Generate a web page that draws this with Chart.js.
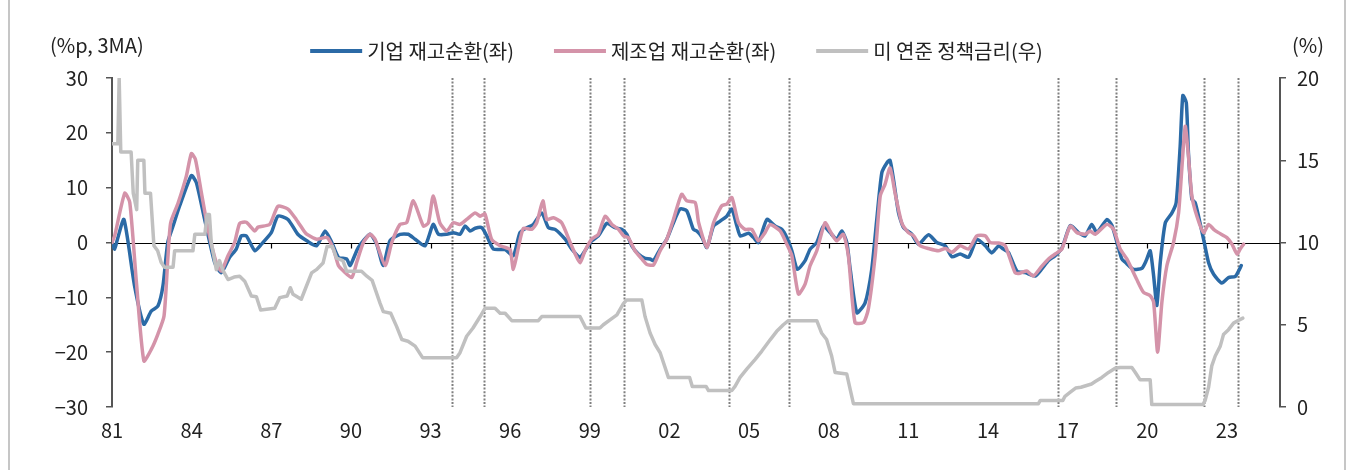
<!DOCTYPE html>
<html>
<head>
<meta charset="utf-8">
<script src="https://cdn.jsdelivr.net/npm/chart.js@4/dist/chart.umd.min.js"></script>
<style>
  html, body { margin: 0; padding: 0; background: #fff; }
  #wrap { width: 1353px; height: 470px; }
</style>
</head>
<body>
<div id="wrap"><canvas id="myChart" width="1353" height="470"></canvas></div>
<script>
// series: [decimal year, value]
firmCycle = [
	[1981.0,0],[1981.1,-1.2],[1981.2,0.5],[1981.45,4.2],[1981.85,-7.9],[1982.2,-14.9],[1982.48,-12.5],[1982.73,-11.6],
	[1982.92,-7.9],[1983.1,0],[1983.3,3.0],[1983.55,6.7],[1983.99,12.2],[1984.18,10.9],[1984.49,4.2],[1984.87,-3.7],
	[1985.12,-5.5],[1985.43,-2.7],[1985.68,-1.2],[1985.87,1.2],[1986.06,1.2],[1986.38,-1.5],[1986.63,-0.3],[1987.0,1.8],
	[1987.25,4.8],[1987.63,4.2],[1988.0,1.5],[1988.34,0.3],[1988.71,-0.6],[1989.03,2.1],[1989.28,0],[1989.53,-2.7],
	[1989.84,-3.0],[1989.97,-4.2],[1990.28,-0.9],[1990.72,1.5],[1990.97,-0.3],[1991.22,-4.2],[1991.47,0.3],[1991.85,1.5],
	[1992.16,1.5],[1992.42,0.6],[1992.79,-0.6],[1993.1,3.3],[1993.3,1.5],[1993.61,1.5],[1993.86,1.8],[1994.11,1.5],
	[1994.3,3.0],[1994.49,2.1],[1994.68,2.6],[1994.93,2.7],[1995.12,1.2],[1995.37,-1.2],[1995.81,-1.3],[1996.12,-2.4],
	[1996.37,1.8],[1996.63,2.7],[1996.87,3.3],[1997.19,5.4],[1997.44,2.7],[1997.69,2.4],[1998.07,0.6],[1998.32,-1.2],
	[1998.63,-2.7],[1998.82,-1.5],[1999.07,0.3],[1999.32,1.2],[1999.64,3.5],[1999.95,2.7],[2000.2,2.4],[2000.39,1.5],
	[2000.58,-0.6],[2000.83,-2.1],[2001.08,-2.9],[2001.27,-3.0],[2001.4,-3.3],[2001.65,-1.2],[2001.9,0.6],[2002.15,3.6],
	[2002.4,6.1],[2002.65,5.8],[2002.9,2.4],[2003.03,2.1],[2003.22,1.0],[2003.41,-0.9],[2003.66,3.0],[2003.91,3.9],
	[2004.16,4.8],[2004.35,6.1],[2004.54,3.0],[2004.67,1.2],[2004.98,1.7],[2005.17,0.9],[2005.35,0],[2005.67,4.2],
	[2005.98,3.0],[2006.23,2.4],[2006.42,0.9],[2006.61,-1.5],[2006.82,-4.9],[2007.11,-3.3],[2007.3,-1.2],[2007.55,0],
	[2007.8,3.0],[2008.05,1.8],[2008.3,0.6],[2008.49,2.1],[2008.68,0],[2008.81,-4.9],[2009.06,-12.8],[2009.37,-11.0],
	[2009.62,-4.9],[2009.81,4.2],[2010.0,12.7],[2010.2,14.6],[2010.31,15.0],[2010.44,11.5],[2010.63,5.4],[2010.82,2.7],
	[2011.13,1.5],[2011.38,-0.3],[2011.76,1.4],[2012.07,0],[2012.39,-0.6],[2012.64,-2.6],[2012.95,-2.1],[2013.27,-2.7],
	[2013.58,0.6],[2013.9,-0.6],[2014.14,-1.9],[2014.4,-0.6],[2014.58,-1.2],[2014.77,-1.8],[2015.09,-5.2],[2015.4,-5.5],
	[2015.78,-6.1],[2016.03,-4.8],[2016.28,-3.3],[2016.53,-2.4],[2016.78,-1.1],[2017.1,3.1],[2017.41,1.8],[2017.66,1.2],
	[2017.91,3.3],[2018.1,1.8],[2018.48,4.2],[2018.67,3.1],[2018.86,0],[2019.04,-3.0],[2019.17,-3.6],[2019.48,-4.9],
	[2019.8,-4.7],[2019.96,-3.3],[2020.11,-1.5],[2020.24,-6.1],[2020.36,-11.5],[2020.49,-3.6],[2020.68,3.6],[2020.93,5.4],
	[2021.09,7.3],[2021.24,17.6],[2021.34,26.8],[2021.47,25.5],[2021.55,16.4],[2021.68,7.9],[2021.8,7.3],[2021.93,4.8],
	[2022.12,0.6],[2022.31,-3.7],[2022.5,-5.8],[2022.81,-7.4],[2023.06,-6.4],[2023.31,-6.2],[2023.44,-5.2],[2023.54,-4.2]
]

mfgCycle = [
	[1981.0,0],[1981.1,1.2],[1981.48,9.0],[1981.67,7.3],[1981.92,-7.3],[1982.2,-21.6],[1982.48,-19.5],[1982.73,-16.7],
	[1982.96,-13.4],[1983.11,-2.4],[1983.21,3.6],[1983.49,7.2],[1983.8,12.1],[1983.99,16.2],[1984.14,15.2],[1984.37,9.0],
	[1984.62,2.4],[1984.93,-3.7],[1985.12,-5.2],[1985.37,-2.4],[1985.62,0],[1985.81,3.5],[1986.06,3.7],[1986.38,2.1],
	[1986.5,2.8],[1986.94,3.3],[1987.25,6.6],[1987.63,6.1],[1987.94,4.2],[1988.26,1.9],[1988.34,1.5],[1988.71,0.6],
	[1989.1,0.9],[1989.34,-1.2],[1989.53,-4.2],[1989.72,-5.2],[1990.03,-6.4],[1990.22,-3.6],[1990.47,0],[1990.72,1.5],
	[1990.91,0.6],[1991.29,-4.2],[1991.54,0],[1991.85,3.3],[1992.1,3.6],[1992.35,7.6],[1992.73,3.0],[1992.92,3.6],
	[1993.1,8.5],[1993.35,3.6],[1993.61,2.1],[1993.86,3.6],[1994.11,3.3],[1994.36,4.2],[1994.68,5.4],[1994.87,4.8],
	[1995.05,5.2],[1995.3,0.6],[1995.62,-0.6],[1995.81,-0.9],[1996.0,-1.3],[1996.12,-4.9],[1996.31,-0.9],[1996.5,2.6],
	[1996.81,2.4],[1997.0,3.6],[1997.23,7.6],[1997.38,4.2],[1997.63,4.5],[1997.94,3.6],[1998.26,0],[1998.45,-2.1],
	[1998.63,-3.7],[1998.82,-1.5],[1999.07,0.6],[1999.32,1.5],[1999.58,4.8],[1999.83,3.3],[2000.08,2.4],[2000.27,1.2],
	[2000.45,0.9],[2000.7,-1.5],[2000.96,-3.0],[2001.15,-4.0],[2001.4,-4.1],[2001.65,-1.5],[2001.9,0.6],[2002.15,4.2],
	[2002.46,8.8],[2002.65,7.6],[2002.97,7.3],[2003.1,3.6],[2003.41,-0.9],[2003.66,3.6],[2003.97,6.7],[2004.16,7.0],
	[2004.35,8.2],[2004.6,3.6],[2004.85,2.4],[2005.1,2.4],[2005.35,0.3],[2005.6,1.8],[2005.79,3.3],[2006.17,2.1],
	[2006.42,-0.3],[2006.61,-2.4],[2006.86,-9.4],[2007.11,-7.6],[2007.3,-4.2],[2007.55,-1.5],[2007.86,3.6],[2008.05,2.1],
	[2008.3,0.3],[2008.55,1.5],[2008.74,-2.4],[2008.99,-14.6],[2009.31,-14.6],[2009.49,-12.2],[2009.75,-2.4],[2009.94,8.5],
	[2010.12,10.6],[2010.31,13.6],[2010.5,9.0],[2010.75,3.6],[2011.0,1.8],[2011.2,1.2],[2011.44,-0.6],[2011.76,-1.1],
	[2012.13,-1.5],[2012.4,-1.1],[2012.64,-1.8],[2012.95,-0.6],[2013.27,-1.2],[2013.58,1.2],[2013.9,1.2],[2014.08,0],
	[2014.4,-0.1],[2014.65,-0.6],[2015.02,-5.5],[2015.21,-5.6],[2015.46,-5.2],[2015.71,-6.1],[2016.03,-4.3],[2016.28,-3.0],
	[2016.53,-2.1],[2016.78,-1.2],[2017.1,3.0],[2017.35,1.8],[2017.66,1.5],[2017.85,2.1],[2018.04,1.5],[2018.48,3.3],
	[2018.73,2.4],[2018.98,-1.2],[2019.23,-3.0],[2019.6,-6.7],[2019.86,-9.1],[2020.11,-9.7],[2020.24,-10.9],[2020.39,-20.0],
	[2020.55,-10.9],[2020.74,-4.2],[2020.99,0],[2021.18,5.4],[2021.3,13.3],[2021.43,21.2],[2021.55,15.8],[2021.68,8.5],
	[2021.87,4.8],[2022.12,1.8],[2022.31,3.3],[2022.5,2.4],[2022.68,1.8],[2023.0,0.9],[2023.19,-0.3],[2023.38,-2.1],
	[2023.5,-1.2],[2023.63,-0.3]
]

fedRate = [
	[1981.0,16.0],[1981.22,16.0],[1981.27,20.0],[1981.33,15.5],[1981.72,15.5],[1981.8,13.0],[1981.93,12.0],[1981.97,15.0],
	[1982.2,15.0],[1982.24,13.0],[1982.45,13.0],[1982.58,9.8],[1982.72,9.5],[1982.85,8.8],[1982.97,8.5],[1983.3,8.5],
	[1983.36,9.5],[1984.05,9.5],[1984.12,10.5],[1984.5,10.5],[1984.58,11.7],[1984.67,11.7],[1984.74,10.0],[1984.93,8.35],
	[1985.05,8.9],[1985.18,8.3],[1985.37,7.75],[1985.6,7.9],[1985.81,7.95],[1986.0,7.65],[1986.25,6.75],[1986.44,6.7],
	[1986.6,5.9],[1987.13,6.0],[1987.32,6.65],[1987.6,6.75],[1987.72,7.25],[1987.82,6.85],[1988.13,6.55],[1988.3,7.25],
	[1988.52,8.15],[1988.7,8.35],[1988.95,8.75],[1989.1,9.75],[1989.3,9.75],[1989.46,9.05],[1989.7,8.9],[1989.84,8.25],
	[1990.4,8.25],[1990.6,7.95],[1990.8,7.7],[1991.1,6.3],[1991.22,5.8],[1991.5,5.7],[1991.72,4.9],[1991.92,4.1],
	[1992.15,4.0],[1992.42,3.7],[1992.7,3.0],[1993.98,3.0],[1994.11,3.3],[1994.36,4.3],[1994.6,4.8],[1994.87,5.5],
	[1995.05,6.0],[1995.43,6.0],[1995.62,5.7],[1995.81,5.7],[1996.06,5.25],[1997.06,5.25],[1997.19,5.5],[1998.63,5.5],
	[1998.85,4.8],[1999.38,4.8],[1999.51,5.0],[1999.76,5.3],[2000.02,5.6],[2000.27,6.3],[2000.39,6.5],[2000.96,6.5],
	[2001.08,5.5],[2001.27,4.5],[2001.46,3.8],[2001.65,3.3],[2001.96,1.8],[2002.76,1.8],[2002.86,1.25],[2003.38,1.25],
	[2003.47,1.0],[2004.35,1.0],[2004.47,1.25],[2004.66,1.8],[2004.91,2.3],[2005.23,2.9],[2005.48,3.4],[2005.8,4.1],
	[2006.04,4.6],[2006.29,5.0],[2006.48,5.25],[2007.55,5.25],[2007.73,4.5],[2007.92,4.1],[2008.11,3.1],[2008.24,2.1],
	[2008.68,2.0],[2008.81,1.05],[2008.93,0.2],[2015.9,0.2],[2015.97,0.4],[2016.82,0.4],[2016.9,0.65],[2017.1,0.9],
	[2017.3,1.15],[2017.5,1.2],[2017.9,1.4],[2018.04,1.55],[2018.29,1.8],[2018.54,2.1],[2018.79,2.35],[2018.98,2.4],
	[2019.42,2.4],[2019.55,2.1],[2019.73,1.65],[2020.11,1.65],[2020.17,0.15],[2022.1,0.15],[2022.18,0.4],[2022.31,1.2],
	[2022.43,2.5],[2022.56,3.1],[2022.75,3.7],[2022.87,4.4],[2023.06,4.7],[2023.25,5.1],[2023.47,5.3],[2023.6,5.4]
]

// dotted vertical markers (decimal year)
markerYears = [1993.8, 1995.0, 1999.0, 2000.27, 2004.26, 2006.52, 2016.62, 2018.83, 2022.12, 2023.41]

xTickYears = [1981,1984,1987,1990,1993,1996,1999,2002,2005,2008,2011,2014,2017,2020,2023]
xTickLabels = ['81','84','87','90','93','96','99','02','05','08','11','14','17','20','23']

seriesNames = ['기업 재고순환(좌)', '제조업 재고순환(좌)', '미 연준 정책금리(우)']
leftTitle = '(%p, 3MA)'
rightTitle = '(%)'

var FONT = '"Noto Sans CJK KR", "Noto Sans", sans-serif'
var BLUE = '#2b6aa6', PINK = '#d493a9', GREY = '#c0c0c0'

function toPoints(arr){
	return arr.map(function(p){ return {x: p[0], y: p[1]} })
}

// zero line, small ticks, dotted markers, legend, axis titles
var decor = {
	id: 'decor',
	beforeDatasetsDraw: function(chart){
		var ctx = chart.ctx, a = chart.chartArea
		var xs = chart.scales.x, ys = chart.scales.y
		ctx.save()
		ctx.strokeStyle = '#7f7f7f'
		ctx.lineWidth = 2
		ctx.setLineDash([2, 1.6])
		markerYears.forEach(function(yr){
			var px = Math.round(xs.getPixelForValue(yr)) + 0.5
			ctx.beginPath()
			ctx.moveTo(px, a.top)
			ctx.lineTo(px, a.bottom)
			ctx.stroke()
		})
		ctx.setLineDash([])
		var y0 = Math.round(ys.getPixelForValue(0)) + 0.5
		ctx.strokeStyle = '#000'
		ctx.lineWidth = 1.2
		ctx.beginPath()
		ctx.moveTo(a.left, y0)
		ctx.lineTo(a.right, y0)
		xTickYears.slice(1).forEach(function(yr){
			var px = Math.round(xs.getPixelForValue(yr)) + 0.5
			ctx.moveTo(px, y0)
			ctx.lineTo(px, y0 + 5)
		})
		ctx.stroke()
		ctx.restore()
	},
	afterDraw: function(chart){
		var ctx = chart.ctx, a = chart.chartArea
		ctx.save()
		// outer frame sides
		ctx.strokeStyle = '#b4b4b4'
		ctx.lineWidth = 1.5
		ctx.beginPath()
		ctx.moveTo(9, 0); ctx.lineTo(9, 470)
		ctx.moveTo(1345, 0); ctx.lineTo(1345, 470)
		ctx.stroke()

		ctx.font = '20px ' + FONT
		ctx.fillStyle = '#222'
		ctx.textBaseline = 'middle'
		ctx.textAlign = 'left'
		ctx.fillText(leftTitle, 50, 45)
		ctx.fillText(rightTitle, 1292, 45)

		// legend, centred
		var lineLen = 52, gapText = 5, gapItem = 40
		var ds = chart.data.datasets
		var widths = ds.map(function(d){ return lineLen + gapText + ctx.measureText(d.label).width })
		var total = widths.reduce(function(s, w){ return s + w }, 0) + gapItem * (ds.length - 1)
		var x = (chart.width - total) / 2
		var ly = 51
		ds.forEach(function(d, i){
			ctx.strokeStyle = d.borderColor
			ctx.lineWidth = 4
			ctx.beginPath()
			ctx.moveTo(x, ly); ctx.lineTo(x + lineLen, ly)
			ctx.stroke()
			ctx.fillText(d.label, x + lineLen + gapText, ly)
			x += widths[i] + gapItem
		})
		ctx.restore()
	}
}

function load_chart(){
	var ctx = document.getElementById('myChart').getContext('2d')
	var tickFont = {family: FONT, size: 20}
	var myChart = new Chart(ctx, {
		type: 'line',
		data: {
			datasets: [
				{label: seriesNames[0], data: toPoints(firmCycle), borderColor: BLUE, backgroundColor: BLUE, yAxisID: 'y', order: 3, tension: 0.2},
				{label: seriesNames[1], data: toPoints(mfgCycle), borderColor: PINK, backgroundColor: PINK, yAxisID: 'y', order: 2, tension: 0.2},
				{label: seriesNames[2], data: toPoints(fedRate), borderColor: GREY, backgroundColor: GREY, yAxisID: 'y2', order: 1, tension: 0}
			]
		},
		options: {
			responsive: false,
			animation: false,
			devicePixelRatio: 1,
			layout: {padding: {top: 78, bottom: 0, left: 0, right: 0}},
			elements: {point: {radius: 0}, line: {borderWidth: 3.5, borderJoinStyle: 'round', borderCapStyle: 'round'}},
			plugins: {legend: {display: false}, tooltip: {enabled: false}},
			scales: {
				x: {
					type: 'linear', position: 'bottom', min: 1981, max: 2025,
					grid: {display: false, drawTicks: false},
					border: {display: false},
					afterBuildTicks: function(s){ s.ticks = xTickYears.map(function(v){ return {value: v} }) },
					afterFit: function(s){ s.height = 63 },
					ticks: {
						font: tickFont, color: '#222', padding: 11, maxRotation: 0, autoSkip: false,
						callback: function(v){ return xTickLabels[xTickYears.indexOf(v)] }
					}
				},
				y: {
					position: 'left', min: -30, max: 30,
					grid: {drawOnChartArea: false, drawTicks: true, tickLength: 6, color: '#555', lineWidth: 1.5},
					border: {display: true, color: '#555', width: 2},
					afterFit: function(s){ s.width = 112 },
					ticks: {
						stepSize: 10, font: tickFont, color: '#222', padding: 18,
						callback: function(v){ return v < 0 ? '\u2212' + Math.abs(v) : String(v) }
					}
				},
				y2: {
					position: 'right', min: 0, max: 20,
					grid: {drawOnChartArea: false, drawTicks: true, tickLength: 6, color: '#555', lineWidth: 1.5},
					border: {display: true, color: '#555', width: 2},
					afterFit: function(s){ s.width = 73 },
					ticks: {stepSize: 5, font: tickFont, color: '#222', padding: 11}
				}
			}
		},
		plugins: [decor]
	})
}

load_chart()
</script>
</body>
</html>
